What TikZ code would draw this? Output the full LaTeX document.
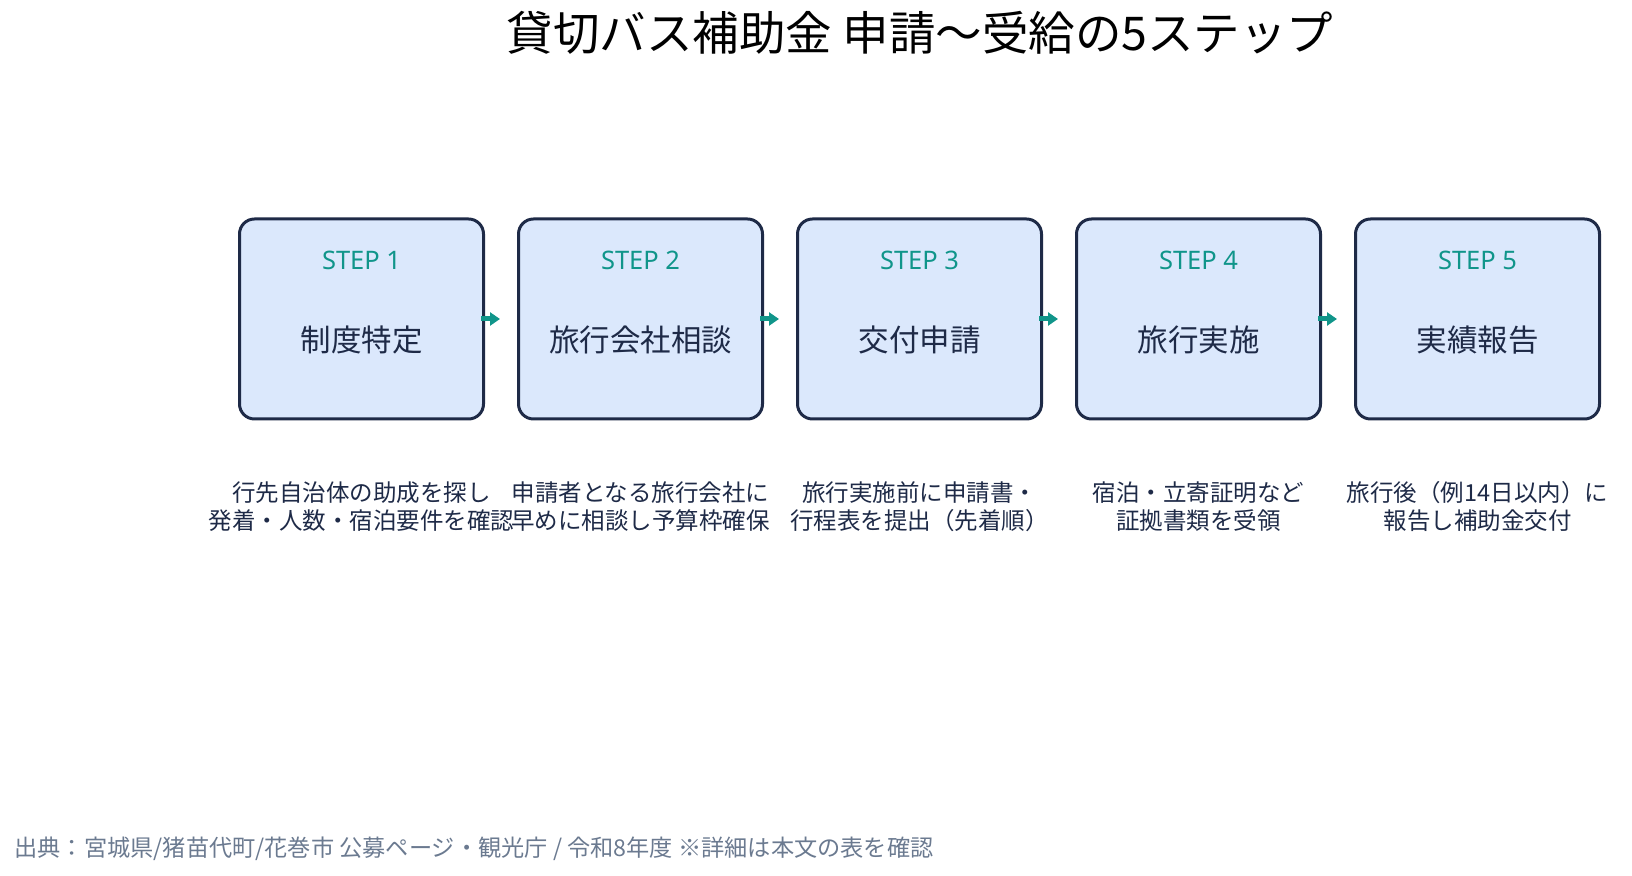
\documentclass[tikz,border=0pt]{standalone}
\usepackage{fontspec}
\newfontfamily\jpfont{Noto Sans CJK JP}
\newfontfamily\latinfont{Noto Sans}
\usetikzlibrary{arrows.meta, positioning}
\definecolor{navy}{HTML}{1E2A47}
\definecolor{boxfill}{HTML}{DBE8FC}
\definecolor{tealc}{HTML}{10958A}
\definecolor{srcgray}{HTML}{6B7A90}

\begin{document}
\begin{tikzpicture}[
    x=1pt, y=1pt,
    node distance=32pt,
    stepbox/.style={rectangle, draw=navy, line width=3pt, fill=boxfill, rounded corners=15pt, minimum width=244pt, minimum height=200pt},
    stepno/.style={text=tealc, font=\latinfont\fontsize{25.5}{30}\selectfont},
    steptitle/.style={text=navy, font=\jpfont\fontsize{30.5}{36}\selectfont},
    desc/.style={text=navy, align=center, inner sep=0pt, font=\jpfont\fontsize{23.5}{28}\selectfont},
    arrow/.style={-{Triangle[length=10pt,width=13pt]}, line width=5pt, draw=tealc, shorten <=-4pt, shorten >=17pt}
  ]
  \useasboundingbox (0,0) rectangle (1632,875);

  % Title
  \node[font=\jpfont\fontsize{46.5}{54}\selectfont, text=black] (title) at (920,842) {貸切バス補助金 申請〜受給の5ステップ};

  % Step boxes
  \node[stepbox] (s1) at (361.5,556) {};
  \node[stepbox, right=of s1] (s2) {};
  \node[stepbox, right=of s2] (s3) {};
  \node[stepbox, right=of s3] (s4) {};
  \node[stepbox, right=of s4] (s5) {};

  % Step numbers and names
  \node[stepno] (n1) at ([yshift=59pt]s1.center) {STEP 1};
  \node[steptitle] (t1) at ([yshift=-21pt]s1.center) {制度特定};
  \node[stepno] (n2) at ([yshift=59pt]s2.center) {STEP 2};
  \node[steptitle] (t2) at ([yshift=-21pt]s2.center) {旅行会社相談};
  \node[stepno] (n3) at ([yshift=59pt]s3.center) {STEP 3};
  \node[steptitle] (t3) at ([yshift=-21pt]s3.center) {交付申請};
  \node[stepno] (n4) at ([yshift=59pt]s4.center) {STEP 4};
  \node[steptitle] (t4) at ([yshift=-21pt]s4.center) {旅行実施};
  \node[stepno] (n5) at ([yshift=59pt]s5.center) {STEP 5};
  \node[steptitle] (t5) at ([yshift=-21pt]s5.center) {実績報告};

  % Arrows
  \draw[arrow] (s1.east) -- (s2.west);
  \draw[arrow] (s2.east) -- (s3.west);
  \draw[arrow] (s3.east) -- (s4.west);
  \draw[arrow] (s4.east) -- (s5.west);

  % Descriptions
  \node[desc, below=61pt of s1] (d1) {行先自治体の助成を探し\\発着・人数・宿泊要件を確認};
  \node[desc, below=61pt of s2] (d2) {申請者となる旅行会社に\\早めに相談し予算枠確保};
  \node[desc, below=61pt of s3] (d3) {旅行実施前に申請書・\\行程表を提出（先着順）};
  \node[desc, below=61pt of s4] (d4) {宿泊・立寄証明など\\証拠書類を受領};
  \node[desc, below=61pt of s5] (d5) {旅行後（例14日以内）に\\報告し補助金交付};

  % Source
  \node[anchor=west, text=srcgray, font=\jpfont\fontsize{23.2}{27}\selectfont] (source) at (11,26) {出典：宮城県/猪苗代町/花巻市 公募ページ・観光庁 / 令和8年度 ※詳細は本文の表を確認};
\end{tikzpicture}
\end{document}
